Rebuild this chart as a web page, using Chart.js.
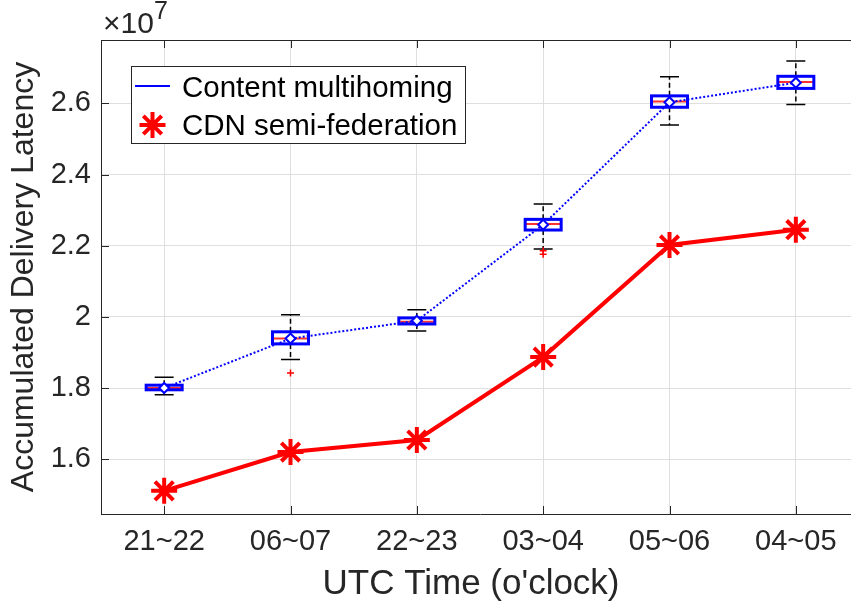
<!DOCTYPE html>
<html>
<head>
<meta charset="utf-8">
<title>Accumulated Delivery Latency</title>
<script src="https://cdn.jsdelivr.net/npm/chart.js@4.4.1/dist/chart.umd.min.js"></script>
<style>
  html, body { margin: 0; padding: 0; background: #fff; overflow: hidden; }
  #wrap { width: 880px; height: 607px; }
</style>
</head>
<body>
<div id="wrap"><canvas id="latencyChart" width="880" height="607"></canvas></div>
<script>
// time slots on the x axis (UTC hours)
const timeSlots = ['21~22', '06~07', '22~23', '03~04', '05~06', '04~05'];

// Content multihoming, box statistics per slot (units of 10^7)
const mhWhiskerLow  = [1.781, 1.880, 1.960, 2.191, 2.539, 2.597];
const mhQ1          = [1.795, 1.924, 1.980, 2.244, 2.589, 2.642];
const mhMedian      = [1.800, 1.939, 1.986, 2.261, 2.605, 2.660];
const mhQ3          = [1.808, 1.958, 1.997, 2.274, 2.621, 2.676];
const mhWhiskerHigh = [1.830, 2.006, 2.020, 2.317, 2.675, 2.719];
const mhMean        = [1.800, 1.939, 1.989, 2.259, 2.603, 2.658];
const mhOutlierSlot  = ['06~07', '03~04', '03~04'];
const mhOutlierValue = [1.842, 2.186, 2.176];

// CDN semi-federation (units of 10^7)
const cdnLatency = [1.511, 1.620, 1.654, 1.887, 2.202, 2.245];

const yTicks = [1.6, 1.8, 2.0, 2.2, 2.4, 2.6];

const xTitle = "UTC Time (o'clock)";
const yTitle = 'Accumulated Delivery Latency';

const FONT = "'Liberation Sans', Arial, Helvetica, sans-serif";
const AXIS = '#262626';
const BLUE = '#0000ff';
const RED = '#ff0000';

// whiskers go under everything else
const whiskerPlugin = {
  id: 'whiskers',
  beforeDatasetsDraw(chart) {
    const { ctx, scales: { x, y } } = chart;
    const capHalf = (x.getPixelForValue(1) - x.getPixelForValue(0)) * 0.075;
    ctx.save();
    ctx.strokeStyle = '#000';
    ctx.lineWidth = 1.5;
    timeSlots.forEach((s, i) => {
      const px = x.getPixelForValue(i);
      const lo = y.getPixelForValue(mhWhiskerLow[i]);
      const hi = y.getPixelForValue(mhWhiskerHigh[i]);
      ctx.setLineDash([5, 3]);
      ctx.beginPath();
      ctx.moveTo(px, y.getPixelForValue(mhQ3[i]));
      ctx.lineTo(px, hi);
      ctx.moveTo(px, y.getPixelForValue(mhQ1[i]));
      ctx.lineTo(px, lo);
      ctx.stroke();
      ctx.setLineDash([]);
      ctx.beginPath();
      ctx.moveTo(px - capHalf, hi);
      ctx.lineTo(px + capHalf, hi);
      ctx.moveTo(px - capHalf, lo);
      ctx.lineTo(px + capHalf, lo);
      ctx.stroke();
    });
    ctx.restore();
  },
  // box outline and median on top of the (empty) floating bars
  afterDatasetDraw(chart, args) {
    if (args.index !== 0) return;
    const { ctx, scales: { y } } = chart;
    ctx.save();
    args.meta.data.forEach((bar, i) => {
      const left = bar.x - bar.width / 2;
      const top = Math.min(bar.y, bar.base);
      const h = Math.abs(bar.base - bar.y);
      const my = y.getPixelForValue(mhMedian[i]);
      ctx.strokeStyle = '#ff3030';
      ctx.lineWidth = 2;
      ctx.beginPath();
      ctx.moveTo(left, my);
      ctx.lineTo(left + bar.width, my);
      ctx.stroke();
      ctx.strokeStyle = BLUE;
      ctx.lineWidth = 3;
      ctx.strokeRect(left, top, bar.width, h);
    });
    ctx.restore();
  }
};

// top frame line, inward tick marks, x title, exponent label and legend box
const framePlugin = {
  id: 'frame',
  afterDraw(chart) {
    const { ctx, chartArea: a, scales: { x, y } } = chart;
    ctx.save();
    ctx.strokeStyle = AXIS;
    ctx.lineWidth = 1;
    ctx.beginPath();
    ctx.moveTo(a.left, a.top + 0.5);
    ctx.lineTo(a.right, a.top + 0.5);
    x.ticks.forEach((t, i) => {
      const px = Math.round(x.getPixelForTick(i)) + 0.5;
      ctx.moveTo(px, a.bottom);
      ctx.lineTo(px, a.bottom - 8);
      ctx.moveTo(px, a.top);
      ctx.lineTo(px, a.top + 8);
    });
    y.ticks.forEach((t, i) => {
      const py = Math.round(y.getPixelForTick(i)) + 0.5;
      ctx.moveTo(a.left, py);
      ctx.lineTo(a.left + 8, py);
    });
    ctx.stroke();

    ctx.fillStyle = AXIS;
    ctx.textAlign = 'center';
    ctx.textBaseline = 'middle';
    ctx.font = '35px ' + FONT;
    ctx.fillText(xTitle, 471, 584);

    // x 10^7 multiplier
    ctx.textBaseline = 'alphabetic';
    ctx.textAlign = 'left';
    ctx.font = '30px ' + FONT;
    ctx.fillText('\u00d710', 103, 33);
    const w = ctx.measureText('\u00d710').width;
    ctx.font = '25px ' + FONT;
    ctx.fillText('7', 103 + w, 19);

    // legend
    const lx = 131.5, ly = 66.5, lw = 334, lh = 77;
    ctx.fillStyle = '#fff';
    ctx.fillRect(lx, ly, lw, lh);
    ctx.strokeStyle = AXIS;
    ctx.lineWidth = 1;
    ctx.strokeRect(lx, ly, lw, lh);

    const ds = chart.data.datasets;
    ctx.strokeStyle = BLUE;
    ctx.lineWidth = 2;
    ctx.beginPath();
    ctx.moveTo(135, 86);
    ctx.lineTo(170, 86);
    ctx.stroke();

    ctx.strokeStyle = RED;
    ctx.lineWidth = 4;
    Chart.helpers.drawPoint(ctx, { pointStyle: 'star', radius: 13, rotation: 0, borderWidth: 4 }, 152.5, 125);

    ctx.fillStyle = '#000';
    ctx.font = '29.5px ' + FONT;
    ctx.textBaseline = 'middle';
    ctx.fillText(ds[2].label, 182, 89);
    ctx.fillText(ds[3].label, 182, 127);
    ctx.restore();
  }
};

new Chart(document.getElementById('latencyChart'), {
  type: 'bar',
  data: {
    labels: timeSlots,
    datasets: [
      {
        label: 'box',
        data: timeSlots.map((s, i) => [mhQ1[i], mhQ3[i]]),
        backgroundColor: 'rgba(0,0,0,0)',
        borderWidth: 0,
        categoryPercentage: 1,
        barPercentage: 0.285,
        order: 4
      },
      {
        type: 'line',
        label: 'outliers',
        data: mhOutlierSlot.map((s, i) => ({ x: s, y: mhOutlierValue[i] })),
        showLine: false,
        pointStyle: 'cross',
        pointRadius: 3.5,
        pointBorderWidth: 1.5,
        pointBorderColor: RED,
        order: 3
      },
      {
        type: 'line',
        label: 'Content multihoming',
        data: mhMean,
        borderColor: BLUE,
        borderWidth: 2,
        borderDash: [2, 2],
        pointStyle: 'rectRot',
        pointRadius: 5,
        pointBorderWidth: 2,
        pointBorderColor: BLUE,
        pointBackgroundColor: '#fff',
        order: 2
      },
      {
        type: 'line',
        label: 'CDN semi-federation',
        data: cdnLatency,
        borderColor: RED,
        borderWidth: 4,
        pointStyle: 'star',
        pointRadius: 13,
        pointBorderWidth: 4,
        pointBorderColor: RED,
        order: 1
      }
    ]
  },
  options: {
    responsive: false,
    devicePixelRatio: 1,
    animation: false,
    layout: { padding: { top: 40, right: 21, left: 0, bottom: 0 } },
    plugins: { legend: { display: false }, tooltip: { enabled: false } },
    scales: {
      x: {
        offset: true,
        grid: { color: '#dfdfdf', offset: false, drawTicks: false },
        border: { display: true, color: AXIS, width: 1 },
        ticks: { color: AXIS, font: { family: FONT, size: 29 }, padding: 11, maxRotation: 0, autoSkip: false },
        afterFit(scale) { scale.height = 93; }
      },
      y: {
        min: 1.446,
        max: 2.778,
        grid: { color: '#dfdfdf', drawTicks: false },
        border: { display: true, color: AXIS, width: 1 },
        afterBuildTicks(scale) { scale.ticks = yTicks.map(v => ({ value: v })); },
        ticks: {
          color: AXIS,
          font: { family: FONT, size: 29 },
          padding: 10,
          callback: v => String(Number(v.toFixed(1)))
        },
        title: { display: true, text: yTitle, color: AXIS, font: { family: FONT, size: 32 }, padding: { top: 5, bottom: 0 } },
        afterFit(scale) { scale.width = 101; }
      }
    }
  },
  plugins: [whiskerPlugin, framePlugin]
});
</script>
</body>
</html>
